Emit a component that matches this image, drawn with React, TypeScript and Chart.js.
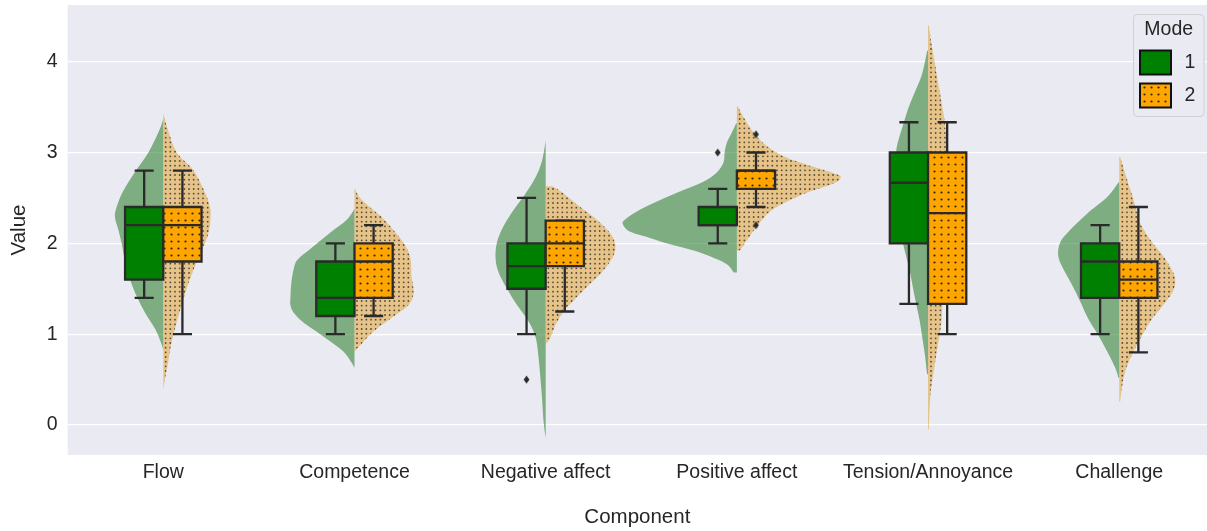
import React, { useEffect, useRef } from "react";
import { Chart, registerables } from "chart.js";

Chart.register(...registerables);

const categories = ["Flow", "Competence", "Negative affect", "Positive affect", "Tension/Annoyance", "Challenge"];
const modes = ["1", "2"];
const legendTitle = "Mode";
const xAxisTitle = "Component";
const yAxisTitle = "Value";
const yTicks = [0, 1, 2, 3, 4];

// box statistics per category: [whiskerLow, q1, median, q3, whiskerHigh]
const mode1Box = [
  [1.4, 1.6, 2.2, 2.4, 2.8],
  [1.0, 1.2, 1.4, 1.8, 2.0],
  [1.0, 1.5, 1.75, 2.0, 2.5],
  [2.0, 2.2, 2.2, 2.4, 2.6],
  [1.333, 2.0, 2.667, 3.0, 3.333],
  [1.0, 1.4, 1.8, 2.0, 2.2],
];
const mode2Box = [
  [1.0, 1.8, 2.2, 2.4, 2.8],
  [1.2, 1.4, 1.8, 2.0, 2.2],
  [1.25, 1.75, 2.0, 2.25, 2.25],
  [2.4, 2.6, 2.8, 2.8, 3.0],
  [1.0, 1.333, 2.333, 3.0, 3.333],
  [0.8, 1.4, 1.6, 1.8, 2.4],
];

// outliers: [categoryIndex, value]
const mode1Outliers = [[2, 0.5], [3, 3.0]];
const mode2Outliers = [[3, 3.2], [3, 2.2]];

// violin half outlines (density profile): [value, half-width in category units]
const mode1Violin = [
  [[3.37, 0], [3.24, 0.022], [3.0, 0.078], [2.81, 0.14], [2.58, 0.209], [2.4, 0.244], [2.29, 0.253], [2.15, 0.235], [2.0, 0.218], [1.79, 0.199], [1.6, 0.173], [1.42, 0.14], [1.24, 0.096], [1.06, 0.043], [0.92, 0.014], [0.83, 0]],
  [[2.38, 0], [2.26, 0.04], [2.12, 0.126], [1.94, 0.23], [1.83, 0.293], [1.75, 0.314], [1.57, 0.33], [1.39, 0.335], [1.32, 0.335], [1.24, 0.319], [1.13, 0.267], [1.03, 0.199], [0.92, 0.126], [0.81, 0.058], [0.7, 0.019], [0.63, 0]],
  [[3.13, 0], [2.91, 0.019], [2.73, 0.052], [2.55, 0.105], [2.37, 0.167], [2.19, 0.22], [2.01, 0.255], [1.83, 0.262], [1.68, 0.246], [1.5, 0.202], [1.32, 0.15], [1.14, 0.089], [0.96, 0.052], [0.74, 0.037], [0.38, 0.022], [0.02, 0.01], [-0.14, 0]],
  [[3.32, 0.004], [3.22, 0.026], [3.11, 0.052], [3.0, 0.064], [2.89, 0.07], [2.78, 0.105], [2.68, 0.173], [2.57, 0.298], [2.46, 0.418], [2.35, 0.523], [2.26, 0.586], [2.21, 0.596], [2.13, 0.56], [2.06, 0.455], [1.99, 0.35], [1.92, 0.225], [1.84, 0.12], [1.77, 0.052], [1.68, 0.016]],
  [[4.12, 0.005], [3.99, 0.017], [3.84, 0.035], [3.66, 0.07], [3.48, 0.105], [3.3, 0.131], [3.12, 0.157], [3.0, 0.167], [2.77, 0.173], [2.55, 0.173], [2.33, 0.162], [2.12, 0.141], [2.0, 0.131], [1.86, 0.115], [1.68, 0.094], [1.5, 0.078], [1.32, 0.061], [1.14, 0.043], [0.96, 0.03], [0.78, 0.017], [0.56, 0.005]],
  [[2.67, 0.004], [2.51, 0.063], [2.33, 0.167], [2.15, 0.256], [2.01, 0.309], [1.86, 0.319], [1.72, 0.293], [1.54, 0.246], [1.36, 0.204], [1.17, 0.162], [0.99, 0.11], [0.81, 0.063], [0.63, 0.021], [0.52, 0.004]],
];
const mode2Violin = [
  [[3.43, 0], [3.24, 0.026], [3.0, 0.07], [2.81, 0.155], [2.58, 0.214], [2.4, 0.244], [2.29, 0.247], [2.15, 0.24], [2.0, 0.218], [1.79, 0.174], [1.61, 0.14], [1.42, 0.11], [1.24, 0.084], [1.06, 0.061], [0.88, 0.04], [0.7, 0.026], [0.52, 0.01], [0.39, 0]],
  [[2.61, 0], [2.48, 0.037], [2.3, 0.136], [2.12, 0.214], [1.97, 0.267], [1.83, 0.293], [1.64, 0.298], [1.46, 0.309], [1.32, 0.282], [1.17, 0.188], [1.03, 0.099], [0.88, 0.031], [0.81, 0]],
  [[2.63, 0.037], [2.55, 0.094], [2.4, 0.181], [2.26, 0.267], [2.11, 0.338], [1.97, 0.365], [1.83, 0.347], [1.68, 0.293], [1.54, 0.225], [1.39, 0.155], [1.25, 0.094], [1.1, 0.051], [0.96, 0.025], [0.89, 0]],
  [[3.51, 0.004], [3.36, 0.043], [3.22, 0.087], [3.07, 0.157], [2.96, 0.244], [2.89, 0.33], [2.82, 0.434], [2.75, 0.533], [2.71, 0.539], [2.66, 0.507], [2.57, 0.382], [2.46, 0.262], [2.35, 0.173], [2.21, 0.113], [2.06, 0.061], [1.92, 0.015]],
  [[4.4, 0.004], [4.21, 0.017], [3.99, 0.035], [3.77, 0.052], [3.56, 0.07], [3.34, 0.087], [3.12, 0.096], [2.8, 0.105], [2.4, 0.11], [2.0, 0.105], [1.6, 0.09], [1.32, 0.075], [1.14, 0.07], [0.96, 0.058], [0.78, 0.043], [0.6, 0.03], [0.42, 0.017], [0.23, 0.009], [-0.05, 0.004]],
  [[2.95, 0.005], [2.77, 0.031], [2.59, 0.058], [2.41, 0.084], [2.22, 0.11], [2.04, 0.162], [1.86, 0.23], [1.68, 0.282], [1.57, 0.293], [1.46, 0.277], [1.32, 0.23], [1.14, 0.162], [0.95, 0.11], [0.77, 0.066], [0.59, 0.031], [0.41, 0.014], [0.26, 0.005]],
];

const FONT = "'Liberation Sans', Arial, sans-serif";
const TEXT = "#262626";
const LINE = "#2a2a2a";
const BG = "#eaeaf2";
const BOX_W = 0.2;

function makeDotPattern(ctx: CanvasRenderingContext2D, tile: number, n: number, r: number, color: string) {
  const c = document.createElement("canvas");
  c.width = tile;
  c.height = tile;
  const g = c.getContext("2d")!;
  g.fillStyle = color;
  const step = tile / n;
  for (let i = 0; i < n; i++) {
    for (let j = 0; j < n; j++) {
      g.beginPath();
      g.arc(step * (i + 0.5), step * (j + 0.5), r, 0, Math.PI * 2);
      g.fill();
    }
  }
  return ctx.createPattern(c, "repeat")!;
}

function makeDiamond() {
  const c = document.createElement("canvas");
  c.width = 7;
  c.height = 9;
  const g = c.getContext("2d")!;
  g.fillStyle = LINE;
  g.beginPath();
  g.moveTo(3.5, 0.5);
  g.lineTo(6.4, 4.5);
  g.lineTo(3.5, 8.5);
  g.lineTo(0.6, 4.5);
  g.closePath();
  g.fill();
  return c;
}

function smoothPath(ctx: CanvasRenderingContext2D, pts: number[][]) {
  for (let i = 0; i < pts.length - 1; i++) {
    const p0 = pts[Math.max(i - 1, 0)];
    const p1 = pts[i];
    const p2 = pts[i + 1];
    const p3 = pts[Math.min(i + 2, pts.length - 1)];
    const c1x = p1[0] + (p2[0] - p0[0]) / 6;
    const c1y = p1[1] + (p2[1] - p0[1]) / 6;
    const c2x = p2[0] - (p3[0] - p1[0]) / 6;
    const c2y = p2[1] - (p3[1] - p1[1]) / 6;
    ctx.bezierCurveTo(c1x, c1y, c2x, c2y, p2[0], p2[1]);
  }
}

const violinBoxPlugin = {
  id: "violinBox",
  beforeDraw(chart: any) {
    const { ctx, chartArea } = chart;
    ctx.save();
    ctx.fillStyle = BG;
    ctx.fillRect(chartArea.left, chartArea.top, chartArea.right - chartArea.left, chartArea.bottom - chartArea.top);
    ctx.restore();
  },
  beforeDatasetsDraw(chart: any) {
    const { ctx, chartArea } = chart;
    const xs = chart.scales.x;
    const ys = chart.scales.y;
    const violinDots = makeDotPattern(ctx, 14, 3, 0.9, "rgba(40,35,30,0.75)");
    const boxDots = makeDotPattern(ctx, 7, 1, 1.1, "rgba(25,25,25,0.9)");
    ctx.save();
    ctx.beginPath();
    ctx.rect(chartArea.left, chartArea.top, chartArea.right - chartArea.left, chartArea.bottom - chartArea.top);
    ctx.clip();

    const drawViolin = (i: number, prof: number[][], side: number, fill: string, hatch: boolean) => {
      const cx = xs.getPixelForValue(i);
      const pts = prof.map((p) => [xs.getPixelForValue(i + side * p[1]), ys.getPixelForValue(p[0])]);
      ctx.beginPath();
      ctx.moveTo(cx, pts[0][1]);
      ctx.lineTo(pts[0][0], pts[0][1]);
      smoothPath(ctx, pts);
      ctx.lineTo(cx, pts[pts.length - 1][1]);
      ctx.closePath();
      ctx.fillStyle = fill;
      ctx.fill();
      if (hatch) {
        ctx.fillStyle = violinDots;
        ctx.fill();
      }
    };

    const drawBox = (i: number, s: number[], side: number, fill: string, hatch: boolean) => {
      const x0 = xs.getPixelForValue(side < 0 ? i - BOX_W : i);
      const x1 = xs.getPixelForValue(side < 0 ? i : i + BOX_W);
      const xc = xs.getPixelForValue(i + side * BOX_W / 2);
      const capL = xs.getPixelForValue(i + side * BOX_W / 2 - BOX_W / 4);
      const capR = xs.getPixelForValue(i + side * BOX_W / 2 + BOX_W / 4);
      const [wl, q1, med, q3, wh] = s.map((v) => ys.getPixelForValue(v));
      ctx.strokeStyle = LINE;
      ctx.lineWidth = 2.3;
      ctx.lineCap = "butt";
      ctx.beginPath();
      ctx.moveTo(xc, q3);
      ctx.lineTo(xc, wh);
      ctx.moveTo(xc, q1);
      ctx.lineTo(xc, wl);
      ctx.moveTo(capL, wh);
      ctx.lineTo(capR, wh);
      ctx.moveTo(capL, wl);
      ctx.lineTo(capR, wl);
      ctx.stroke();
      ctx.beginPath();
      ctx.rect(x0, q3, x1 - x0, q1 - q3);
      ctx.fillStyle = fill;
      ctx.fill();
      if (hatch) {
        ctx.fillStyle = boxDots;
        ctx.fill();
      }
      ctx.stroke();
      ctx.beginPath();
      ctx.moveTo(x0, med);
      ctx.lineTo(x1, med);
      ctx.stroke();
    };

    categories.forEach((_, i) => {
      drawViolin(i, mode1Violin[i], -1, "rgba(16,112,16,0.5)", false);
      drawViolin(i, mode2Violin[i], 1, "rgba(223,156,32,0.5)", true);
    });
    categories.forEach((_, i) => {
      drawBox(i, mode1Box[i], -1, "#008000", false);
      drawBox(i, mode2Box[i], 1, "#ffa500", true);
    });
    ctx.restore();
  },
  afterDraw(chart: any) {
    const { ctx, chartArea } = chart;
    const boxDots = makeDotPattern(ctx, 7, 1, 1.1, "rgba(25,25,25,0.9)");
    const right = chartArea.right - 3;
    const left = right - 70.5;
    const top = chartArea.top + 9.5;
    const bottom = top + 102;
    ctx.save();
    const r = 4;
    ctx.beginPath();
    ctx.moveTo(left + r, top);
    ctx.arcTo(right, top, right, bottom, r);
    ctx.arcTo(right, bottom, left, bottom, r);
    ctx.arcTo(left, bottom, left, top, r);
    ctx.arcTo(left, top, right, top, r);
    ctx.closePath();
    ctx.fillStyle = "rgba(234,234,242,0.8)";
    ctx.fill();
    ctx.strokeStyle = "#cfcfd6";
    ctx.lineWidth = 1;
    ctx.stroke();
    ctx.fillStyle = TEXT;
    ctx.font = `19.5px ${FONT}`;
    ctx.textAlign = "center";
    ctx.textBaseline = "middle";
    ctx.fillText(legendTitle, (left + right) / 2, top + 15);
    const fills = ["#008000", "#ffa500"];
    modes.forEach((m, k) => {
      const py = top + 36 + k * 33;
      const px = left + 6.5;
      ctx.beginPath();
      ctx.rect(px, py, 31, 24);
      ctx.fillStyle = fills[k];
      ctx.fill();
      if (k === 1) {
        ctx.fillStyle = boxDots;
        ctx.fill();
      }
      ctx.strokeStyle = "#111";
      ctx.lineWidth = 2;
      ctx.stroke();
      ctx.fillStyle = TEXT;
      ctx.textAlign = "center";
      ctx.fillText(m, px + 50, py + 12);
    });
    ctx.restore();
  },
};

export default function App() {
  const ref = useRef<HTMLCanvasElement | null>(null);
  useEffect(() => {
    if (!ref.current) return;
    const diamond = makeDiamond();
    const chart = new Chart(ref.current, {
      type: "scatter",
      data: {
        datasets: [
          {
            label: modes[0],
            data: mode1Outliers.map(([c, v]) => ({ x: c - BOX_W / 2, y: v })),
            pointStyle: diamond as any,
            backgroundColor: LINE,
          },
          {
            label: modes[1],
            data: mode2Outliers.map(([c, v]) => ({ x: c + BOX_W / 2, y: v })),
            pointStyle: diamond as any,
            backgroundColor: LINE,
          },
        ],
      },
      options: {
        animation: false,
        responsive: false,
        layout: { autoPadding: false, padding: { top: 5, right: 0, left: 0, bottom: 0 } },
        plugins: { legend: { display: false }, tooltip: { enabled: false } },
        scales: {
          x: {
            type: "linear",
            min: -0.5,
            max: 5.459,
            grid: { display: false, drawTicks: false },
            border: { display: false },
            afterBuildTicks: (s: any) => {
              s.ticks = categories.map((_, i) => ({ value: i }));
            },
            afterFit: (s: any) => {
              s.height = 76;
              s.paddingLeft = 0;
              s.paddingRight = 0;
            },
            ticks: {
              autoSkip: false,
              maxRotation: 0,
              padding: 6,
              color: TEXT,
              font: { family: FONT, size: 19.5 },
              callback: (v: any) => categories[Math.round(Number(v))] ?? "",
            },
            title: {
              display: true,
              text: xAxisTitle,
              color: TEXT,
              font: { family: FONT, size: 20.5 },
              padding: { top: 0, bottom: 1 },
            },
          },
          y: {
            min: -0.33,
            max: 4.624,
            grid: { color: "#ffffff", lineWidth: 1.3, drawTicks: false },
            border: { display: false },
            afterBuildTicks: (s: any) => {
              s.ticks = yTicks.map((v) => ({ value: v }));
            },
            afterFit: (s: any) => {
              s.width = 67.7;
              s.paddingTop = 0;
              s.paddingBottom = 0;
            },
            ticks: {
              padding: 10,
              color: TEXT,
              font: { family: FONT, size: 19.5 },
            },
            title: {
              display: true,
              text: yAxisTitle,
              color: TEXT,
              font: { family: FONT, size: 20.5 },
              padding: { top: 7, bottom: 0 },
            },
          },
        },
      },
      plugins: [violinBoxPlugin],
    });
    return () => chart.destroy();
  }, []);
  return (
    <div style={{ position: "absolute", left: 0, top: 0, width: 1207, height: 531, overflow: "hidden" }}>
      <canvas ref={ref} width={1207} height={531} style={{ display: "block", width: 1207, height: 531 }} />
    </div>
  );
}
